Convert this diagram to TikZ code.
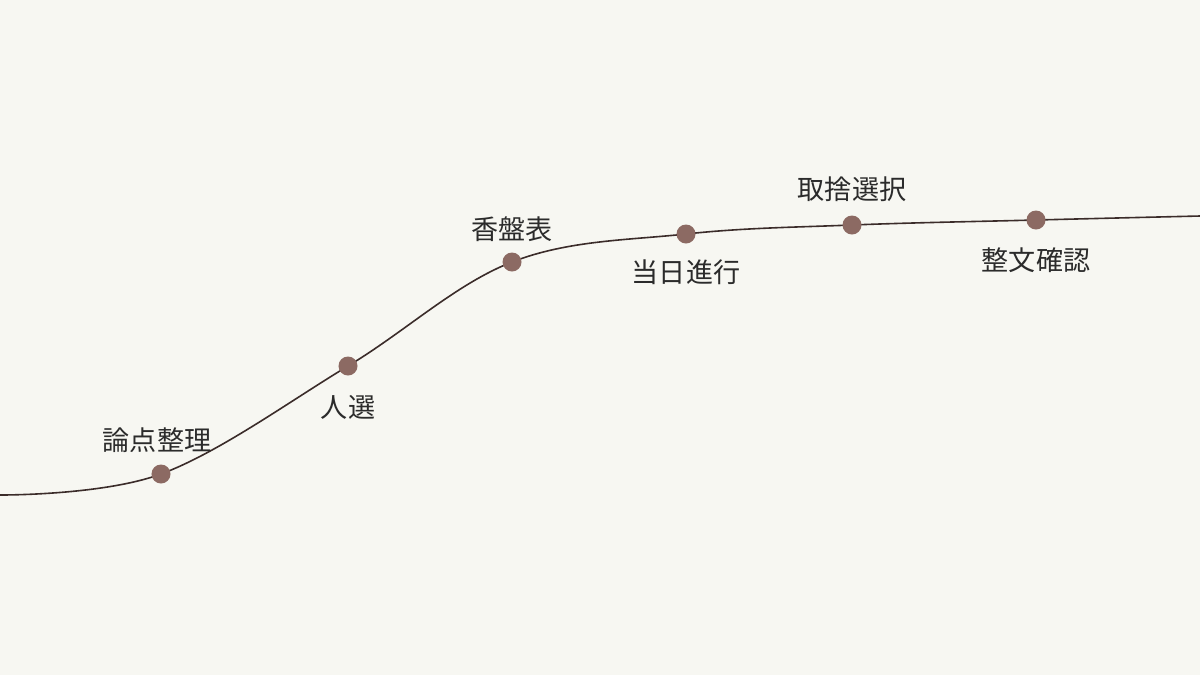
\documentclass[tikz,border=0pt]{standalone}
\usepackage{fontspec}
\newfontfamily\jpfont{Noto Sans CJK JP}
\definecolor{paper}{HTML}{F7F7F2}
\definecolor{curvebrown}{HTML}{3B2C2A}
\definecolor{dotbrown}{HTML}{8C6A63}
\definecolor{inkgrey}{HTML}{2B2B2B}
\tikzset{
  stagedot/.style={circle,fill=dotbrown,inner sep=0,outer sep=0,minimum size=0.19cm},
  stagelabel/.style={inner sep=0,outer sep=0,text=inkgrey,font=\jpfont\fontsize{7.7pt}{9pt}\selectfont}
}
\begin{document}
\begin{tikzpicture}[x=0.01cm,y=-0.01cm]
      \fill[paper] (0,0) rectangle (1200,675);
      \useasboundingbox (0,0) rectangle (1200,675);
      \coordinate (s0) at (0,495);
      \coordinate (s7) at (1200,216);
      \foreach \i/\x/\y in {1/161/474,2/348/366,3/512/262,4/686/234,5/852/225,6/1036/220}
        \coordinate (s\i) at (\x,\y);
      \draw[curvebrown,line width=0.016cm] plot[smooth,tension=0.6] coordinates {(s0) (s1) (s2) (s3) (s4) (s5) (s6) (s7)};
      \foreach \i in {1,...,6}
        \node[stagedot] (d\i) at (s\i) {};
      \node[stagelabel] (l1) at (157,440) {論点整理};
      \node[stagelabel] (l2) at (348,407) {人選};
      \node[stagelabel] (l3) at (512,229) {香盤表};
      \node[stagelabel] (l4) at (686,272) {当日進行};
      \node[stagelabel] (l5) at (852,189) {取捨選択};
      \node[stagelabel] (l6) at (1036,260) {整文確認};
    \end{tikzpicture}
\end{document}
